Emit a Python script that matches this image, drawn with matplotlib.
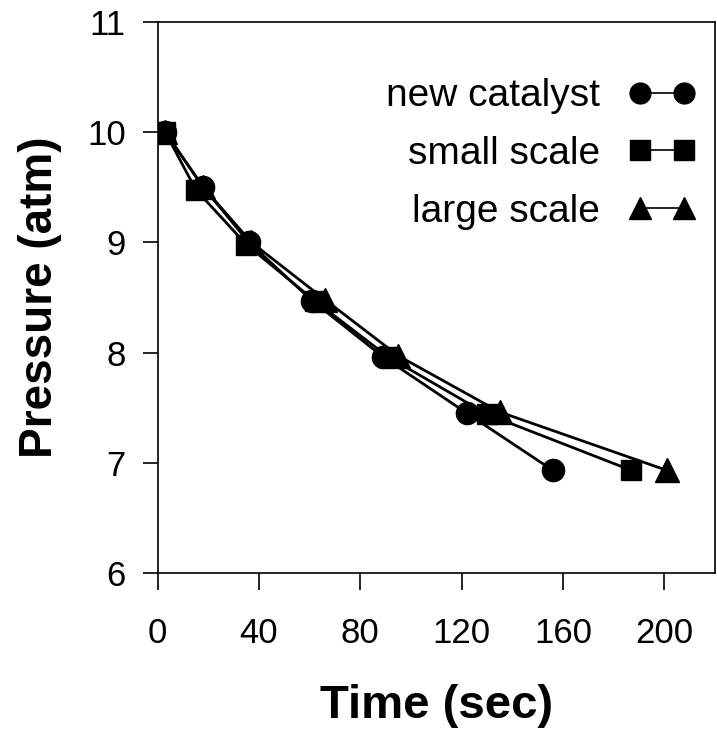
import matplotlib.pyplot as plt
from matplotlib.lines import Line2D

plt.rcParams['font.family'] = ['Liberation Sans', 'DejaVu Sans']

# time (sec) and pressure (atm)
t_new = [3, 18, 36, 61, 89, 122, 156]
p_new = [10.0, 9.5, 9.0, 8.47, 7.96, 7.45, 6.93]
t_small = [3, 15, 35, 62, 91, 130, 187]
p_small = [10.0, 9.48, 8.98, 8.47, 7.96, 7.44, 6.93]
t_large = [3, 18, 37, 66, 95, 135, 201]
p_large = [10.0, 9.5, 9.0, 8.48, 7.97, 7.46, 6.93]

series_names = ["new catalyst", "small scale", "large scale"]
x_ticks = [0, 40, 80, 120, 160, 200]
y_ticks = [6, 7, 8, 9, 10, 11]

fig = plt.figure(figsize=(7.17, 7.39), dpi=100)
ax = fig.add_axes([0.220, 0.225, 0.777, 0.745])

ax.plot(t_new, p_new, color='black', lw=2.0, marker='o', ms=16, zorder=3)
ax.plot(t_small, p_small, color='black', lw=2.0, marker='s', ms=14.5, zorder=3)
ax.plot(t_large, p_large, color='black', lw=2.0, marker='^', ms=17, zorder=3)

handles = [
    Line2D([], [], color='black', lw=1.2, marker='o', ms=15),
    Line2D([], [], color='black', lw=1.2, marker='s', ms=14),
    Line2D([], [], color='black', lw=1.2, marker='^', ms=16),
]
ax.legend(handles, series_names, loc='upper right', bbox_to_anchor=(0.966, 0.898),
          frameon=False, markerfirst=False, numpoints=2, fontsize=28,
          handlelength=1.75, handletextpad=0.72, labelspacing=0.56,
          borderpad=0, borderaxespad=0)

ax.set_xlim(0, 220)
ax.set_ylim(6, 11)
ax.set_xticks(x_ticks)
ax.set_yticks(y_ticks)
ax.tick_params(direction='out', width=1.2, labelsize=25)
ax.tick_params(axis='x', length=12, pad=20)
ax.tick_params(axis='y', length=11, pad=12)
for s in ax.spines.values():
    s.set_linewidth(1.2)

ax.set_xlabel("Time (sec)", fontsize=34, fontweight='bold', labelpad=24)
ax.set_ylabel("Pressure (atm)", fontsize=33, fontweight='bold', labelpad=18)

fig.savefig("out.png", dpi=100)
